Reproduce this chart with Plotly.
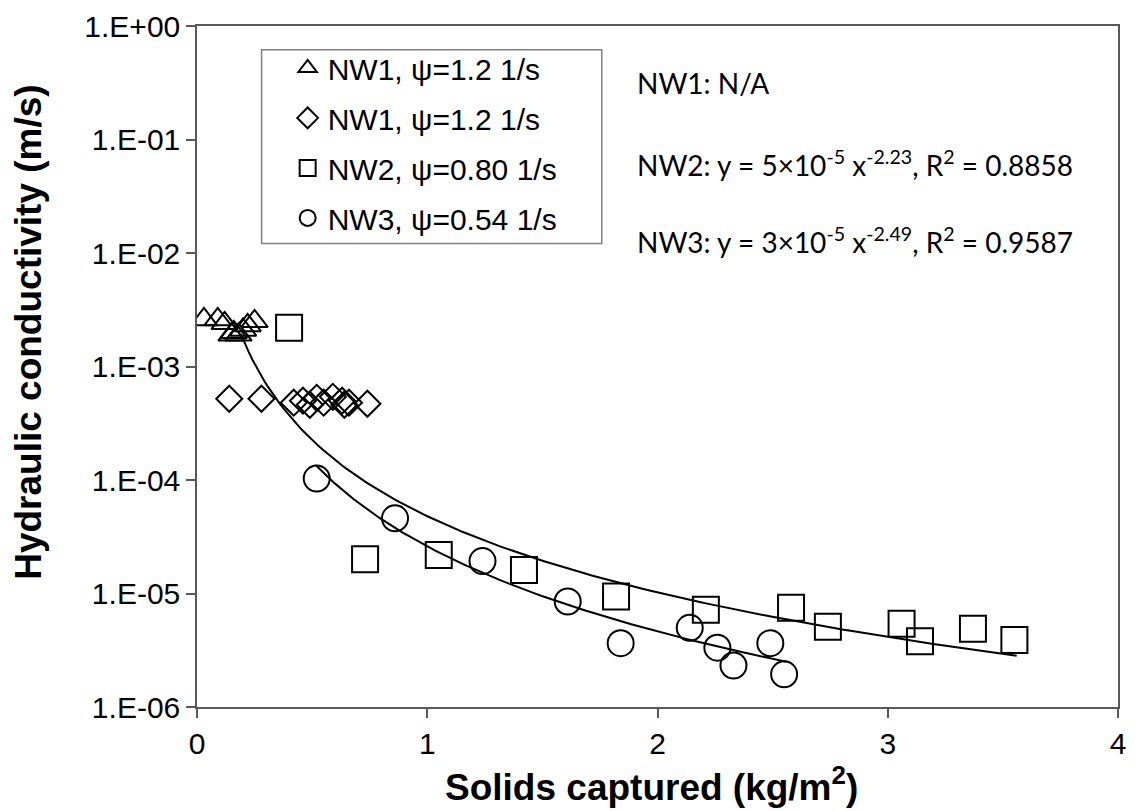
import numpy as np
import plotly.graph_objects as go

# ---------------- data ----------------
NW1_TRI_X = [0.03, 0.09, 0.12, 0.15, 0.16, 0.18, 0.20, 0.22, 0.25]
NW1_TRI_Y = [2.6e-3, 2.6e-3, 2.4e-3, 1.9e-3, 2.0e-3, 1.9e-3, 2.1e-3, 2.3e-3, 2.5e-3]

NW1_DIA_X = [0.14, 0.28, 0.42, 0.46, 0.49, 0.52, 0.55, 0.59, 0.63, 0.64, 0.66, 0.74]
NW1_DIA_Y = [5.2e-4, 5.2e-4, 4.8e-4, 5.0e-4, 4.6e-4, 5.3e-4, 4.8e-4, 5.4e-4, 5.0e-4, 4.6e-4, 4.8e-4, 4.7e-4]

NW2_X = [0.40, 0.73, 1.05, 1.42, 1.82, 2.21, 2.58, 2.74, 3.06, 3.14, 3.37, 3.55]
NW2_Y = [2.2e-3, 2.0e-5, 2.18e-5, 1.61e-5, 9.4e-6, 7.2e-6, 7.5e-6, 5.1e-6, 5.4e-6, 3.8e-6, 4.9e-6, 3.9e-6]

NW3_X = [0.52, 0.86, 1.24, 1.61, 1.84, 2.14, 2.26, 2.33, 2.49, 2.55]
NW3_Y = [1.03e-4, 4.6e-5, 1.93e-5, 8.5e-6, 3.65e-6, 4.98e-6, 3.33e-6, 2.32e-6, 3.65e-6, 1.94e-6]

# power-law trendlines (y = a * x^b) as reported on the chart
NW2_FIT_A, NW2_FIT_B, NW2_FIT_XMIN, NW2_FIT_XMAX = 4.8e-5, -2.23, 0.19, 3.56
NW3_FIT_A, NW3_FIT_B, NW3_FIT_XMIN, NW3_FIT_XMAX = 2.6e-5, -2.49, 0.515, 2.56

SERIES_NAMES = ["NW1, ψ=1.2 1/s", "NW1, ψ=1.2 1/s", "NW2, ψ=0.80 1/s", "NW3, ψ=0.54 1/s"]

X_TICKS = [0, 1, 2, 3, 4]
X_TICK_TEXT = ["0", "1", "2", "3", "4"]
Y_TICKS = [1e-6, 1e-5, 1e-4, 1e-3, 1e-2, 1e-1, 1e0]
Y_TICK_TEXT = ["1.E-06", "1.E-05", "1.E-04", "1.E-03", "1.E-02", "1.E-01", "1.E+00"]

FIT_TEXTS = [
    "NW1: N/A",
    "NW2: y = 5×10<sup>-5</sup> x<sup>-2.23</sup>, R<sup>2</sup> = 0.8858",
    "NW3: y = 3×10<sup>-5</sup> x<sup>-2.49</sup>, R<sup>2</sup> = 0.9587",
]

# ---------------- figure ----------------
W, H = 1135, 811
ML, MR, MT, MB = 196.5, 9, 21, 104
PW, PH = W - ML - MR, H - MT - MB

def px_x(p):
    return (p - ML) / PW

def px_y(p):
    return (H - MB - p) / PH

ARIAL = "Arial, Liberation Sans, sans-serif"
mk_line = dict(color="black", width=2)

fig = go.Figure()
fig.add_trace(go.Scatter(x=NW1_TRI_X, y=NW1_TRI_Y, mode="markers", name=SERIES_NAMES[0],
                         legendgroup="a",
                         marker=dict(symbol="triangle-up-open", size=23, color="black", line=mk_line)))
fig.add_trace(go.Scatter(x=NW1_DIA_X, y=NW1_DIA_Y, mode="markers", name=SERIES_NAMES[1],
                         legendgroup="b",
                         marker=dict(symbol="diamond-open", size=20, color="black", line=mk_line)))
fig.add_trace(go.Scatter(x=NW2_X, y=NW2_Y, mode="markers", name=SERIES_NAMES[2],
                         legendgroup="c",
                         marker=dict(symbol="square-open", size=26, color="black", line=mk_line)))
fig.add_trace(go.Scatter(x=NW3_X, y=NW3_Y, mode="markers", name=SERIES_NAMES[3],
                         legendgroup="d",
                         marker=dict(symbol="circle-open", size=26, color="black", line=mk_line)))

for a, b, x0, x1 in [(NW2_FIT_A, NW2_FIT_B, NW2_FIT_XMIN, NW2_FIT_XMAX),
                     (NW3_FIT_A, NW3_FIT_B, NW3_FIT_XMIN, NW3_FIT_XMAX)]:
    xs = np.linspace(x0, x1, 200)
    fig.add_trace(go.Scatter(x=xs, y=a * xs ** b, mode="lines", showlegend=False,
                             line=dict(color="black", width=2), hoverinfo="skip"))

axis_common = dict(showline=True, linecolor="#595959", linewidth=1.5, mirror=True,
                   ticks="outside", ticklen=9, tickwidth=1.5, tickcolor="#595959",
                   showgrid=False, zeroline=False,
                   tickfont=dict(family=ARIAL, size=30, color="black"))

fig.update_layout(
    width=W, height=H,
    margin=dict(l=ML, r=MR, t=MT, b=MB),
    paper_bgcolor="white", plot_bgcolor="white",
    showlegend=True,
    legend=dict(x=px_x(288), y=px_y(37), xanchor="left", yanchor="top",
                bgcolor="rgba(0,0,0,0)", borderwidth=0, tracegroupgap=8,
                font=dict(family=ARIAL, size=30, color="black"), itemsizing="trace"),
    xaxis=dict(range=[0, 4], tickvals=X_TICKS, ticktext=X_TICK_TEXT, **axis_common),
    yaxis=dict(type="log", range=[-6, 0], tickvals=Y_TICKS, ticktext=Y_TICK_TEXT, **axis_common),
    shapes=[dict(type="rect", xref="paper", yref="paper",
                 x0=px_x(261.7), x1=px_x(605), y0=px_y(240), y1=px_y(45),
                 line=dict(color="#7f7f7f", width=1.5), fillcolor="rgba(0,0,0,0)")],
)

annos = []
for txt, yp in zip(FIT_TEXTS, [78, 160, 237]):
    annos.append(dict(text=txt, xref="paper", yref="paper", x=px_x(639), y=px_y(yp),
                      xanchor="left", yanchor="middle", showarrow=False,
                      font=dict(family="Lato, sans-serif", size=28, color="black")))
annos.append(dict(text="<b>Hydraulic conductivity (m/s)</b>", xref="paper", yref="paper",
                  x=px_x(27), y=px_y(329), xanchor="center", yanchor="middle", textangle=-90,
                  showarrow=False, font=dict(family=ARIAL, size=37, color="black")))
annos.append(dict(text="<b>Solids captured (kg/m<sup>2</sup>)</b>", xref="paper", yref="paper",
                  x=px_x(655), y=px_y(785), xanchor="center", yanchor="middle",
                  showarrow=False, font=dict(family=ARIAL, size=37, color="black")))
fig.update_layout(annotations=annos)

fig.write_html("out.html")
